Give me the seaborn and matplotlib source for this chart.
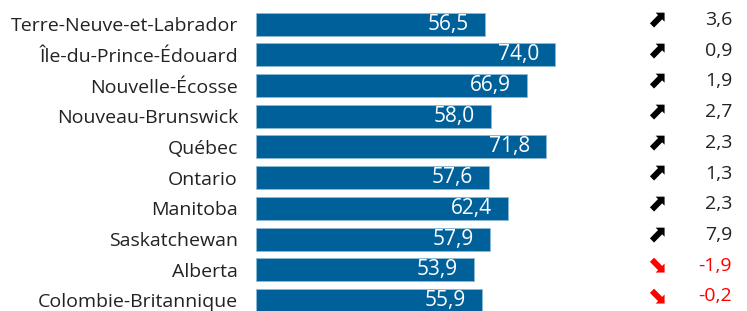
import matplotlib
matplotlib.use("Agg")
import matplotlib.pyplot as plt
import matplotlib.transforms as mtransforms
import pandas as pd
import seaborn as sns

# Données
provinces = [
    "Terre-Neuve-et-Labrador",
    "Île-du-Prince-Édouard",
    "Nouvelle-Écosse",
    "Nouveau-Brunswick",
    "Québec",
    "Ontario",
    "Manitoba",
    "Saskatchewan",
    "Alberta",
    "Colombie-Britannique",
]
valeurs = [56.5, 74.0, 66.9, 58.0, 71.8, 57.6, 62.4, 57.9, 53.9, 55.9]
variations = [3.6, 0.9, 1.9, 2.7, 2.3, 1.3, 2.3, 7.9, -1.9, -0.2]

BLEU = "#00609A"
ROUGE = "#FF0000"
FONT = "Open Sans"


def fr(v):
    return f"{v:.1f}".replace(".", ",")


df = pd.DataFrame({"province": provinces, "valeur": valeurs, "variation": variations})

sns.set_theme(style="white")
plt.rcParams["font.family"] = [FONT, "DejaVu Sans"]

fig = plt.figure(figsize=(7.47, 3.11), dpi=100)
ax = fig.add_axes([256 / 747, 0, 1 - 256 / 747, 1])

sns.barplot(
    ax=ax,
    data=df,
    x="valeur",
    y="province",
    color=BLEU,
    saturation=1,
    width=0.75,
    edgecolor="#8db9d4",
    linewidth=0.6,
)

ax.set_xlim(0, (747 - 256) / 4.045)
ax.set_ylim(9.343, -0.788)
ax.set_xlabel("")
ax.set_ylabel("")
ax.set_xticks([])
for s in ax.spines.values():
    s.set_visible(False)
ax.tick_params(axis="y", length=0, pad=13, labelsize=14, labelcolor="#222222")

# Valeurs dans les barres
for i, v in enumerate(valeurs):
    ax.annotate(
        fr(v), xy=(v, i), xytext=(-11.5, 0), textcoords="offset points",
        ha="right", va="center", color="white", fontsize=15,
    )

# Colonne de variation à droite (légèrement au-dessus du centre des barres)
trans = mtransforms.blended_transform_factory(fig.transFigure, ax.transData)
for i, d in enumerate(variations):
    c = "black" if d >= 0 else ROUGE
    fleche = "⬈" if d >= 0 else "⬊"
    ax.annotate(fleche, xy=(656 / 747, i), xycoords=trans, xytext=(0, 3.5),
                textcoords="offset points", ha="center", va="center",
                color=c, fontsize=17, family="DejaVu Sans", fontweight="bold")
    ax.annotate(fr(d), xy=(732 / 747, i), xycoords=trans, xytext=(0, 3),
                textcoords="offset points", ha="right", va="center",
                color=c if d < 0 else "#222222", fontsize=14)

fig.savefig("out.png", dpi=100)
